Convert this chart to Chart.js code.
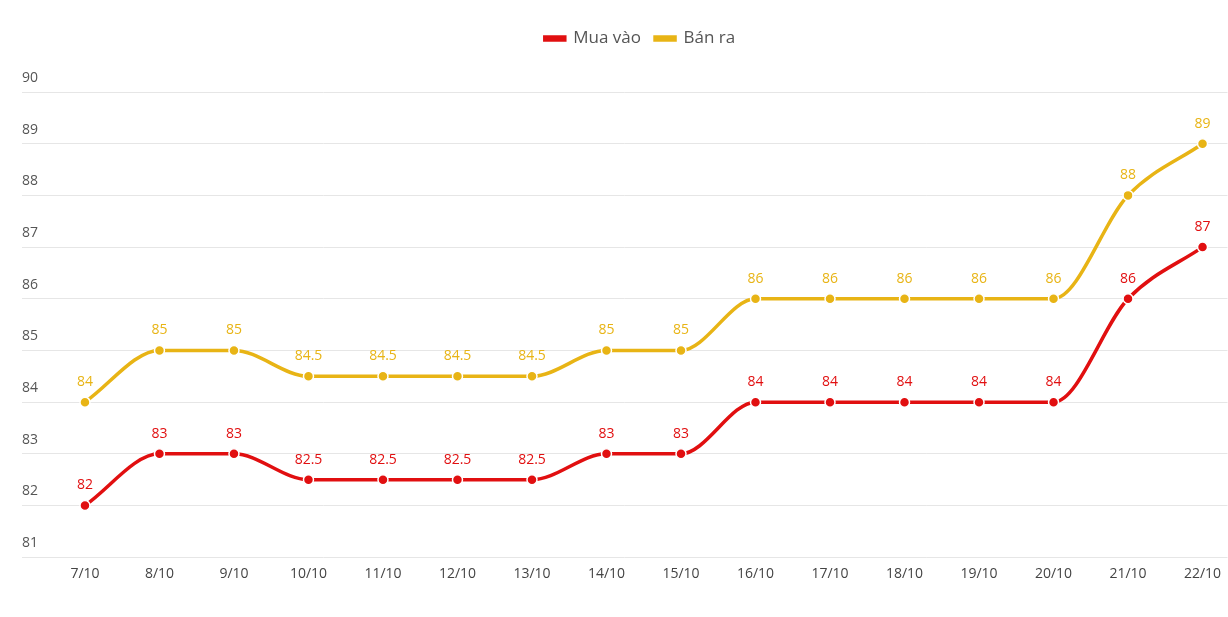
<!DOCTYPE html>
<html>
<head>
<meta charset="utf-8">
<script src="https://cdn.jsdelivr.net/npm/chart.js@4.4.0/dist/chart.umd.min.js"></script>
<style>
html,body{margin:0;padding:0;background:#fff;overflow:hidden;}
#wrap{width:1234px;height:617px;position:relative;}
</style>
</head>
<body>
<div id="wrap"><canvas id="c"></canvas></div>
<script>
const categories = ["7/10","8/10","9/10","10/10","11/10","12/10","13/10","14/10","15/10","16/10","17/10","18/10","19/10","20/10","21/10","22/10"];
const muaVao = [82, 83, 83, 82.5, 82.5, 82.5, 82.5, 83, 83, 84, 84, 84, 84, 84, 86, 87];
const banRa  = [84, 85, 85, 84.5, 84.5, 84.5, 84.5, 85, 85, 86, 86, 86, 86, 86, 88, 89];
const yTicks = [81, 82, 83, 84, 85, 86, 87, 88, 89, 90];

const RED = '#e10f10';
const GOLD = '#e8b415';

const toPoints = arr => arr.map((v, i) => ({x: i, y: v}));

const labelPlugin = {
  id: 'valueLabels',
  afterDatasetsDraw(chart) {
    const ctx = chart.ctx;
    ctx.save();
    ctx.font = '14px "Open Sans", sans-serif';
    ctx.textAlign = 'center';
    ctx.textBaseline = 'middle';
    chart.data.datasets.forEach((ds, di) => {
      const meta = chart.getDatasetMeta(di);
      if (meta.hidden) return;
      ctx.fillStyle = ds.borderColor;
      meta.data.forEach((el, i) => {
        ctx.fillText(String(ds.data[i].y), el.x, el.y - 20);
      });
    });
    ctx.restore();
  }
};

const legendMargin = {
  id: 'legendMargin',
  beforeInit(chart) {
    const orig = chart.legend.fit;
    chart.legend.fit = function () {
      orig.bind(chart.legend)();
      this.height += 35;
    };
  },
  afterLayout(chart) {
    chart.legend.left += 12;
    chart.legend.right += 12;
  }
};

new Chart(document.getElementById('c'), {
  type: 'line',
  data: {
    datasets: [
      {
        label: 'Mua vào',
        data: toPoints(muaVao),
        borderColor: RED,
        backgroundColor: RED,
        pointBackgroundColor: RED,
        pointBorderColor: '#fff',
        pointBorderWidth: 1.5,
        pointRadius: 5,
        borderWidth: 3.5,
        cubicInterpolationMode: 'monotone'
      },
      {
        label: 'Bán ra',
        data: toPoints(banRa),
        borderColor: GOLD,
        backgroundColor: GOLD,
        pointBackgroundColor: GOLD,
        pointBorderColor: '#fff',
        pointBorderWidth: 1.5,
        pointRadius: 5,
        borderWidth: 3.5,
        cubicInterpolationMode: 'monotone'
      }
    ]
  },
  options: {
    responsive: true,
    maintainAspectRatio: false,
    animation: false,
    layout: { padding: { top: 16, left: 22, right: 0, bottom: 35 } },
    plugins: {
      legend: {
        position: 'top',
        labels: {
          boxWidth: 20,
          boxHeight: 3,
          color: '#555',
          font: { size: 17, family: '"Open Sans", sans-serif' },
          padding: 14
        }
      },
      tooltip: { enabled: false }
    },
    scales: {
      x: {
        type: 'linear',
        min: -0.845,
        max: 15.335,
        afterFit(scale) {
          scale.paddingRight = 0;
          scale.paddingLeft = 0;
        },
        afterBuildTicks(scale) {
          scale.ticks = categories.map((_, i) => ({ value: i }));
        },
        ticks: {
          autoSkip: false,
          maxRotation: 0,
          color: '#444',
          font: { size: 14, family: '"Open Sans", sans-serif' },
          padding: 0,
          callback: v => categories[v]
        },
        grid: { display: false },
        border: { display: false }
      },
      y: {
        min: 81,
        max: 90,
        afterBuildTicks(scale) {
          scale.ticks = yTicks.map(v => ({ value: v }));
        },
        ticks: {
          mirror: true,
          labelOffset: -14,
          padding: 0,
          color: '#555',
          font: { size: 14, family: '"Open Sans", sans-serif' }
        },
        grid: { color: '#e6e6e6', drawTicks: false },
        border: { display: false }
      }
    }
  },
  plugins: [labelPlugin, legendMargin]
});
</script>
</body>
</html>
